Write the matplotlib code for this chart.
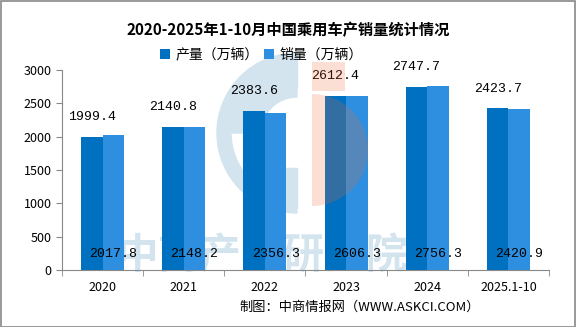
import matplotlib.pyplot as plt
import numpy as np
from matplotlib.patches import Rectangle, Wedge

plt.rcParams['font.family'] = ['Noto Sans CJK SC', 'DejaVu Sans']

years = ['2020', '2021', '2022', '2023', '2024', '2025.1-10']
production = [1999.4, 2140.8, 2383.6, 2612.4, 2747.7, 2423.7]
sales = [2017.8, 2148.2, 2356.3, 2606.3, 2756.3, 2420.9]

c_prod = '#0070c0'
c_sale = '#2e8fe0'
num_font = ['Liberation Mono', 'DejaVu Sans']

fig = plt.figure(figsize=(5.76, 3.27), dpi=100)

# background layer (logo + watermark text), in pixel coords
bg = fig.add_axes([0, 0, 1, 1], zorder=0)
bg.set_xlim(0, 576)
bg.set_ylim(327, 0)
bg.axis('off')
bg.add_patch(Wedge((297, 133), 80, 90, 270, width=14, color='#d3e4ee'))
bg.add_patch(Wedge((297, 133), 76, 180, 270, width=40, color='#d3e4ee'))
bg.add_patch(Rectangle((286, 55), 11, 33, color='#d3e4ee'))
bg.add_patch(Rectangle((262, 168), 35, 40, color='#d3e4ee'))
bg.text(262, 257, '中商产业研究院', ha='center', va='center', fontsize=30,
        color='#d3e4ee', fontweight='bold')

ax = fig.add_axes([62 / 576, 1 - 270 / 327, (549 - 62) / 576, 200 / 327], zorder=1)
ax.patch.set_alpha(0)

x = np.arange(len(years))
w = 0.265
ax.bar(x - w / 2, production, w, color=c_prod, label='产量（万辆）', zorder=2)
ax.bar(x + w / 2, sales, w, color=c_sale, label='销量（万辆）', zorder=2)

for i in range(len(years)):
    ax.annotate(f'{production[i]:.1f}', (x[i] - w / 2, production[i]), xytext=(0, 10),
                textcoords='offset points', ha='center', va='bottom', fontsize=9.5,
                family=num_font)
    ax.text(x[i] + w / 2, 240, f'{sales[i]:.1f}', ha='center', va='center', fontsize=9.5,
            family=num_font, zorder=4)

ax.set_xlim(-0.5, len(years) - 0.5)
ax.set_ylim(0, 3000)
ax.set_yticks(range(0, 3001, 500))
ax.set_xticks(x)
ax.set_xticklabels(years, fontsize=9)
ax.set_xticks(np.arange(-0.5, len(years)), minor=True)
ax.tick_params(axis='x', which='major', length=0, pad=8)
ax.tick_params(axis='x', which='minor', length=4, color='#888888', direction='out')
ax.tick_params(axis='y', labelsize=9, length=4, color='#888888')
for s in ['top', 'right']:
    ax.spines[s].set_visible(False)
ax.spines['left'].set_color('#888888')
ax.spines['bottom'].set_color('#888888')

ax.legend(loc='center', bbox_to_anchor=(0.41, 1.075), ncol=2, frameon=False, fontsize=10,
          handlelength=0.7, handleheight=0.7, handletextpad=0.4, columnspacing=0.4)

# orange half of the logo sits over the bars
fg = fig.add_axes([0, 0, 1, 1], zorder=2)
fg.patch.set_alpha(0)
fg.set_xlim(0, 576)
fg.set_ylim(327, 0)
fg.axis('off')
fg.add_patch(Wedge((312, 150), 56, 270, 450, facecolor='#ee6b34', alpha=0.21, lw=0))
fg.add_patch(Rectangle((312, 62), 33, 29, facecolor='#ee6b34', alpha=0.21, lw=0))

fig.suptitle('2020-2025年1-10月中国乘用车产销量统计情况', y=1 - 22 / 327, fontsize=11,
             fontweight='bold')
fig.text(480 / 576, 1 - 307 / 327, '制图：中商情报网（WWW.ASKCI.COM）', ha='right', va='center',
         fontsize=9.5)

fig.patches.append(Rectangle((0.001, 0.001), 0.997, 0.996, transform=fig.transFigure,
                             fill=False, edgecolor='#888888', linewidth=1.2))

fig.savefig('out.png', dpi=100)
